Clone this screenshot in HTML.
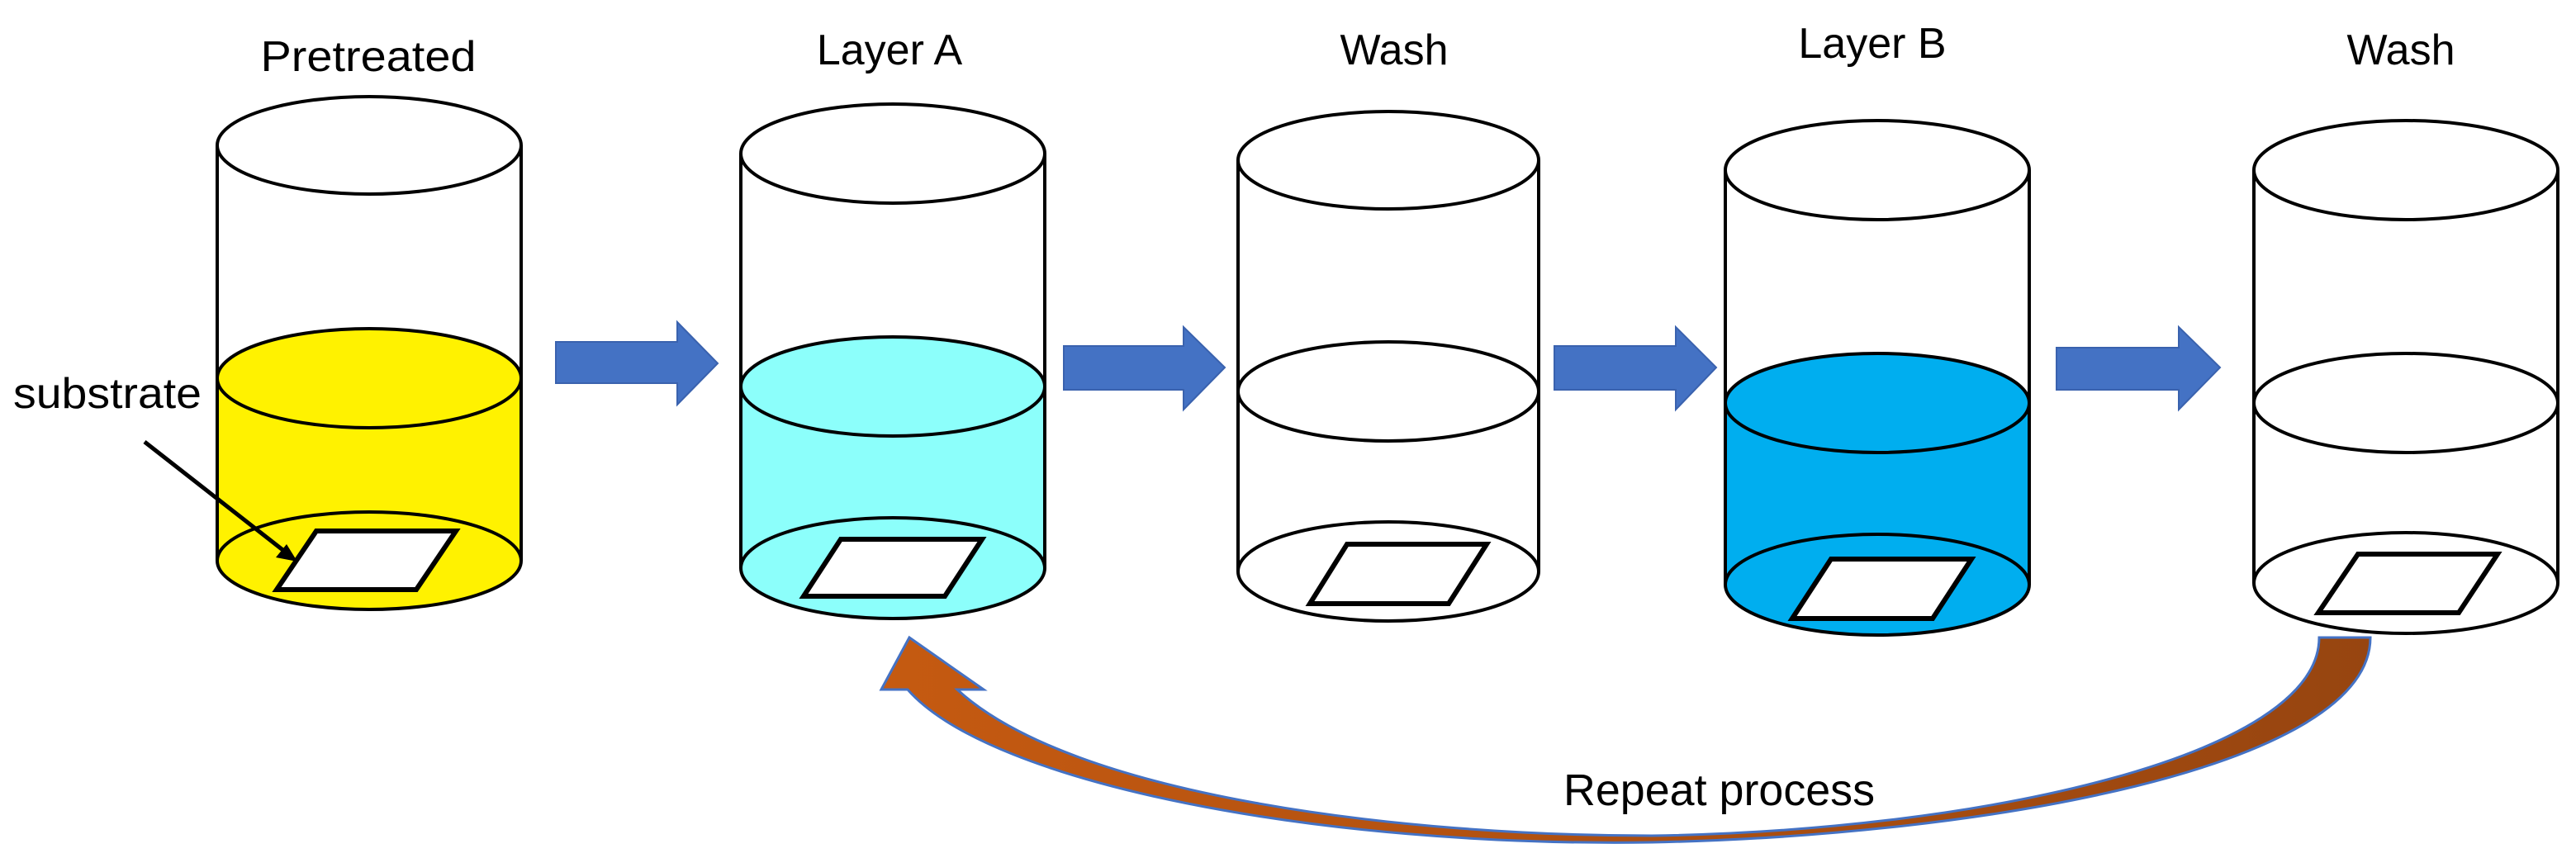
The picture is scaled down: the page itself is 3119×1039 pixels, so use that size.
<!DOCTYPE html>
<html><head><meta charset="utf-8"><style>
html,body{margin:0;padding:0;background:#fff;}
svg{display:block;}
text{font-family:"Liberation Sans",sans-serif;fill:#000;}
</style></head><body>
<svg width="3119" height="1039" viewBox="0 0 3119 1039" xmlns="http://www.w3.org/2000/svg">
<defs>
<linearGradient id="og" x1="0" y1="0" x2="1" y2="0">
<stop offset="0" stop-color="#C55A11"/><stop offset="1" stop-color="#974510"/>
</linearGradient>
<marker id="ah" markerWidth="10" markerHeight="10" refX="8" refY="5" orient="auto" markerUnits="userSpaceOnUse">
</marker>
</defs>
<g stroke="#000" stroke-width="4">
<!-- Cylinder 1 -->
<rect x="263" y="176" width="368" height="503" fill="#fff" stroke="none"/>
<path d="M263 458 L263 679 A184 59 0 0 0 631 679 L631 458 Z" fill="#FFF200" stroke="none"/>
<line x1="263" y1="176" x2="263" y2="679"/><line x1="631" y1="176" x2="631" y2="679"/>
<ellipse cx="447" cy="679" rx="184" ry="59" fill="none"/>
<ellipse cx="447" cy="458" rx="184" ry="60" fill="#FFF200"/>
<ellipse cx="447" cy="176" rx="184" ry="59" fill="#fff"/>
<polygon points="383,643 552,643 504,714 335,714" fill="#fff" stroke-width="6"/>
<!-- Cylinder 2 -->
<path d="M897 468 L897 688 A184 61 0 0 0 1265 688 L1265 468 Z" fill="#8CFFFB" stroke="none"/>
<line x1="897" y1="186" x2="897" y2="688"/><line x1="1265" y1="186" x2="1265" y2="688"/>
<ellipse cx="1081" cy="688" rx="184" ry="61" fill="none"/>
<ellipse cx="1081" cy="468" rx="184" ry="60" fill="#8CFFFB"/>
<ellipse cx="1081" cy="186" rx="184" ry="60" fill="#fff"/>
<polygon points="1018,653 1189,653 1144,722 973,722" fill="#fff" stroke-width="6"/>
<!-- Cylinder 3 -->
<line x1="1499" y1="194" x2="1499" y2="692"/><line x1="1863" y1="194" x2="1863" y2="692"/>
<ellipse cx="1681" cy="692" rx="182" ry="60" fill="none"/>
<ellipse cx="1681" cy="474" rx="182" ry="60" fill="#fff"/>
<ellipse cx="1681" cy="194" rx="182" ry="59" fill="#fff"/>
<polygon points="1631,659 1800,659 1754,731 1586,731" fill="#fff" stroke-width="6"/>
<!-- Cylinder 4 -->
<path d="M2089 488 L2089 708 A184 61 0 0 0 2457 708 L2457 488 Z" fill="#00AEEF" stroke="none"/>
<line x1="2089" y1="206" x2="2089" y2="708"/><line x1="2457" y1="206" x2="2457" y2="708"/>
<ellipse cx="2273" cy="708" rx="184" ry="61" fill="none"/>
<ellipse cx="2273" cy="488" rx="184" ry="60" fill="#00AEEF"/>
<ellipse cx="2273" cy="206" rx="184" ry="60" fill="#fff"/>
<polygon points="2217,677 2387,677 2340,749 2170,749" fill="#fff" stroke-width="6"/>
<!-- Cylinder 5 -->
<line x1="2729" y1="206" x2="2729" y2="706"/><line x1="3097" y1="206" x2="3097" y2="706"/>
<ellipse cx="2913" cy="706" rx="184" ry="61" fill="none"/>
<ellipse cx="2913" cy="488" rx="184" ry="60" fill="#fff"/>
<ellipse cx="2913" cy="206" rx="184" ry="60" fill="#fff"/>
<polygon points="2855,671 3024,671 2977,742 2807,742" fill="#fff" stroke-width="6"/>
</g>
<!-- substrate pointer -->
<line x1="175" y1="535" x2="345" y2="668" stroke="#000" stroke-width="5"/>
<polygon points="360,680 334,675 347,659" fill="#000"/>
<!-- blue arrows -->
<g fill="#4472C4" stroke="#3A62AE" stroke-width="2">
<polygon points="673,414 820,414 820,390 869,440 820,490 820,464 673,464"/>
<polygon points="1288,419 1433,419 1433,396 1483,445 1433,496 1433,472 1288,472"/>
<polygon points="1882,419 2029,419 2029,396 2078,445 2029,496 2029,472 1882,472"/>
<polygon points="2490,421 2638,421 2638,396 2688,445 2638,496 2638,472 2490,472"/>
</g>
<!-- orange curved arrow -->
<path d="M2808 772 L2870 772 C2870 930 2400 1012 2000 1020 C1600 1026 1200 950 1099 835 L1067 835 L1101 772 L1191 835 L1159 835 C1300 965 1700 1012 2000 1012 C2400 1006 2808 915 2808 772 Z" fill="url(#og)" stroke="#4472C4" stroke-width="3"/>
<!-- labels -->
<text x="446" y="86" font-size="52" text-anchor="middle" textLength="261" lengthAdjust="spacingAndGlyphs">Pretreated</text>
<text x="1077" y="78" font-size="52" text-anchor="middle">Layer A</text>
<text x="1688" y="78" font-size="52" text-anchor="middle">Wash</text>
<text x="2267" y="70" font-size="52" text-anchor="middle">Layer B</text>
<text x="2907" y="78" font-size="52" text-anchor="middle">Wash</text>
<text x="16" y="494" font-size="52" textLength="228" lengthAdjust="spacingAndGlyphs">substrate</text>
<text x="1893" y="975" font-size="54" textLength="377" lengthAdjust="spacingAndGlyphs">Repeat process</text>
</svg>
</body></html>
